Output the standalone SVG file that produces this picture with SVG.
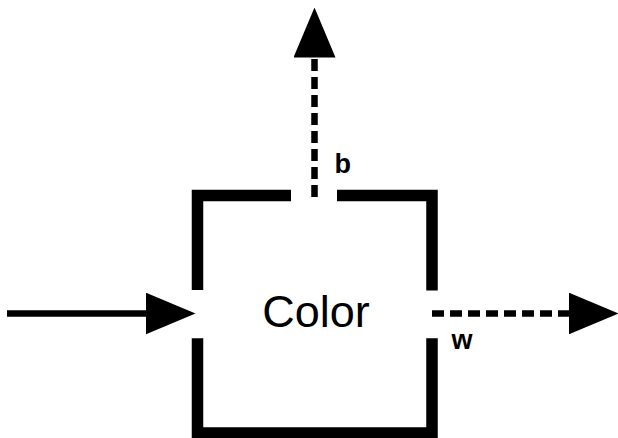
<svg xmlns="http://www.w3.org/2000/svg" width="618" height="438" viewBox="0 0 618 438">
  <style>
    .wall { fill: none; stroke: #000; stroke-width: 11.5; stroke-linejoin: miter; stroke-linecap: butt; }
    .conn { fill: none; stroke: #000; stroke-width: 6.5; stroke-linecap: butt; }
    .dash { stroke-dasharray: 12 6; }
    .lbl { font-family: "Liberation Sans", Arial, sans-serif; fill: #000; }
  </style>
  <defs>
    <marker id="arrow" viewBox="0 0 50 42" markerWidth="50" markerHeight="42" refX="0.5" refY="21" orient="auto" markerUnits="userSpaceOnUse">
      <polygon points="0,0 50,21 0,42" fill="#000"/>
    </marker>
  </defs>
  <rect width="618" height="438" fill="#fff"/>
  <g id="connectors">
    <path class="conn" d="M7,313.5 H146" marker-end="url(#arrow)"/>
    <path class="conn dash" d="M314.5,197 V57" marker-end="url(#arrow)"/>
    <path class="conn dash" d="M432,313.5 H569" marker-end="url(#arrow)"/>
  </g>
  <g id="color">
    <path class="wall" d="M291,195.5 H197.5 V290"/>
    <path class="wall" d="M337,195.5 H432 V290.5"/>
    <path class="wall" d="M197.5,338.3 V433 H432 V338.3"/>
    <text class="lbl" x="316" y="326.5" font-size="45" text-anchor="middle">Color</text>
  </g>
  <g id="label-b">
    <text class="lbl" x="334.5" y="172.7" font-size="27" font-weight="bold">b</text>
  </g>
  <g id="label-w">
    <text class="lbl" x="451.5" y="348.5" font-size="27" font-weight="bold">w</text>
  </g>
</svg>
